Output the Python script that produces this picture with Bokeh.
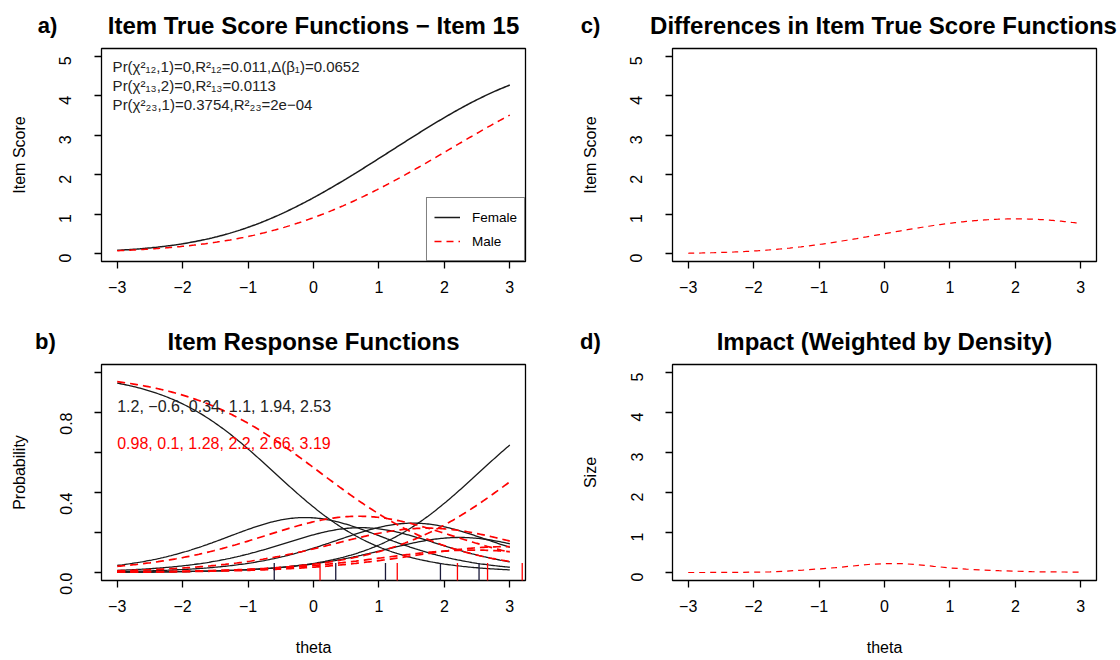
import math
import numpy as np
from bokeh.plotting import figure
from bokeh.layouts import row, column
from bokeh.models import Range1d, FixedTicker, Label, Legend, LegendItem
from bokeh.embed import file_html
from bokeh.resources import INLINE

# ---------------- data ----------------
theta_ticks = [-3, -2, -1, 0, 1, 2, 3]
theta_tick_labels = ["\u22123", "\u22122", "\u22121", "0", "1", "2", "3"]
score_ticks = [0, 1, 2, 3, 4, 5]
score_tick_labels = ["0", "1", "2", "3", "4", "5"]
prob_ticks = [0.0, 0.2, 0.4, 0.6, 0.8, 1.0]
prob_tick_labels = ["0.0", "", "0.4", "", "0.8", ""]

groups = ["Female", "Male"]
female_a = 1.2
female_b = [-0.6, 0.34, 1.1, 1.94, 2.53]
male_a = 0.98
male_b = [0.1, 1.28, 2.2, 2.66, 3.19]

impact_theta = [-3.0, -2.75, -2.5, -2.25, -2.0, -1.75, -1.5, -1.25, -1.0, -0.75, -0.5, -0.25,
                0.0, 0.25, 0.5, 0.75, 1.0, 1.25, 1.5, 1.75, 2.0, 2.25, 2.5, 2.75, 3.0]
impact_size = [0.0, 0.0, 0.002, 0.004, 0.008, 0.015, 0.035, 0.06, 0.09, 0.12, 0.16, 0.2,
               0.222, 0.225, 0.197, 0.155, 0.115, 0.085, 0.06, 0.045, 0.033, 0.02, 0.015, 0.012, 0.008]

stat_lines = ["Pr(\u03c7\u00b2\u2081\u2082,1)=0,R\u00b2\u2081\u2082=0.011,\u0394(\u03b2\u2081)=0.0652",
              "Pr(\u03c7\u00b2\u2081\u2083,2)=0,R\u00b2\u2081\u2083=0.0113",
              "Pr(\u03c7\u00b2\u2082\u2083,1)=0.3754,R\u00b2\u2082\u2083=2e\u221204"]
param_lines = ["1.2, \u22120.6, 0.34, 1.1, 1.94, 2.53",
               "0.98, 0.1, 1.28, 2.2, 2.66, 3.19"]
panel_tags = ["a)", "b)", "c)", "d)"]
panel_titles = ["Item True Score Functions \u2212 Item 15",
                "Item Response Functions",
                "Differences in Item True Score Functions",
                "Impact (Weighted by Density)"]

# ---------------- model curves from the printed GRM parameters ----------------
th = np.linspace(-3, 3, 241)


def cum_probs(a, bs):
    return [1.0 / (1.0 + np.exp(-a * (th - b))) for b in bs]


def cat_probs(a, bs):
    c = [np.ones_like(th)] + cum_probs(a, bs) + [np.zeros_like(th)]
    return [c[k] - c[k + 1] for k in range(len(bs) + 1)]


score_f = np.sum(cum_probs(female_a, female_b), axis=0)
score_m = np.sum(cum_probs(male_a, male_b), axis=0)
score_diff = score_f - score_m
cats_f = cat_probs(female_a, female_b)
cats_m = cat_probs(male_a, male_b)

FONT = "Liberation Sans"
BLACK = "#1a1a1a"
RED = "#ff0000"
TOTAL_W = 1118


def base_fig(width, height, bl, br, bt, bb, yr, yticks, ylabels, ylab, xlab):
    p = figure(width=width, height=height, x_range=Range1d(-3.24, 3.24), y_range=Range1d(*yr),
               output_backend="svg", toolbar_location=None,
               min_border_left=bl, min_border_right=br, min_border_top=bt, min_border_bottom=bb)
    p.grid.visible = False
    p.outline_line_color = "black"
    p.outline_line_width = 1.3
    p.background_fill_color = "white"
    p.border_fill_color = "white"
    p.xaxis.ticker = FixedTicker(ticks=theta_ticks)
    p.xaxis.major_label_overrides = dict(zip(theta_ticks, theta_tick_labels))
    p.yaxis.ticker = FixedTicker(ticks=yticks)
    p.yaxis.major_label_overrides = dict(zip(yticks, ylabels))
    p.yaxis.major_label_orientation = math.pi / 2
    for ax in p.axis:
        ax.axis_line_color = None
        ax.major_tick_in = 0
        ax.major_tick_out = 7
        ax.major_tick_line_width = 1.3
        ax.major_tick_line_color = "black"
        ax.minor_tick_line_color = None
        ax.major_label_text_font = FONT
        ax.major_label_text_font_size = "16px"
        ax.major_label_text_color = "black"
        ax.axis_label_text_font = FONT
        ax.axis_label_text_font_size = "16px"
        ax.axis_label_text_font_style = "normal"
        ax.axis_label_text_color = "black"
    p.yaxis.axis_label = ylab
    p.yaxis.major_label_standoff = 29
    p.yaxis.axis_label_standoff = 23
    p.xaxis.major_label_standoff = 12
    if xlab:
        p.xaxis.axis_label = xlab
        p.xaxis.axis_label_standoff = 24
    return p


def heading_fig(height, items):
    f = figure(width=TOTAL_W, height=height, x_range=Range1d(0, TOTAL_W), y_range=Range1d(height, 0),
               x_axis_type=None, y_axis_type=None, output_backend="svg", toolbar_location=None,
               min_border=0)
    f.grid.visible = False
    f.outline_line_color = None
    f.background_fill_color = "white"
    f.border_fill_color = "white"
    for x, y, txt, size in items:
        f.add_layout(Label(x=x, y=y, text=txt, text_font=FONT, text_font_size=size,
                           text_font_style="bold", text_align="center", text_baseline="middle",
                           text_color="black"))
    return f


TAG = "22px"
TTL = "24px"
# ---- headings ----
head_top = heading_fig(46, [(47, 25, panel_tags[0], TAG), (313, 25, panel_titles[0], TTL),
                            (590, 25, panel_tags[2], TAG), (883, 25, panel_titles[2], TTL)])
head_bot = heading_fig(42, [(45, 21, panel_tags[1], TAG), (313, 21, panel_titles[1], TTL),
                            (590, 21, panel_tags[3], TAG), (884, 21, panel_titles[3], TTL)])

# ---- panel a ----
pa = base_fig(560, 274, 101, 35, 2, 59, (-0.2, 5.2), score_ticks, score_tick_labels, "Item Score", None)
r_f = pa.line(th, score_f, line_color=BLACK, line_width=1.5)
r_m = pa.line(th, score_m, line_color=RED, line_width=1.5, line_dash="7 5")
for txt, yv in zip(stat_lines, [4.75, 4.27, 3.79]):
    pa.add_layout(Label(x=-3.07, y=yv, text=txt, text_font=FONT, text_font_size="15px",
                        text_color="#222222", text_align="left", text_baseline="middle"))
legend = Legend(items=[LegendItem(label=groups[0], renderers=[r_f]),
                       LegendItem(label=groups[1], renderers=[r_m])],
                location="bottom_right", margin=0, padding=7, spacing=0,
                glyph_width=26, glyph_height=24, label_height=24, label_standoff=12,
                label_text_font=FONT, label_text_font_size="13.5px", label_text_color="black",
                border_line_color="black", border_line_width=1.3, background_fill_alpha=1.0)
pa.add_layout(legend)

# ---- panel b ----
pb = base_fig(560, 297, 101, 35, 2, 79, (-0.04, 1.04), prob_ticks, prob_tick_labels, "Probability", "theta")
for c in cats_f:
    pb.line(th, c, line_color=BLACK, line_width=1.3)
for c in cats_m:
    pb.line(th, c, line_color=RED, line_width=1.7, line_dash="8 5")
pb.segment(x0=female_b, y0=[-0.06] * len(female_b), x1=female_b, y1=[0.048] * len(female_b),
           line_color="#1a1a3a", line_width=1.3)
pb.segment(x0=male_b, y0=[-0.06] * len(male_b), x1=male_b, y1=[0.048] * len(male_b),
           line_color=RED, line_width=1.3)
pb.add_layout(Label(x=-3, y=0.83, text=param_lines[0], text_font=FONT, text_font_size="16px",
                    text_color="#222222", text_align="left", text_baseline="middle"))
pb.add_layout(Label(x=-3, y=0.647, text=param_lines[1], text_font=FONT, text_font_size="16px",
                    text_color=RED, text_align="left", text_baseline="middle"))

# ---- panel c ----
pc = base_fig(TOTAL_W - 560, 274, 112, TOTAL_W - 560 - 112 - 424, 2, 59, (-0.2, 5.2),
              score_ticks, score_tick_labels, "Item Score", None)
pc.line(th, score_diff, line_color=RED, line_width=1.2, line_dash="6 5")

# ---- panel d ----
pd = base_fig(TOTAL_W - 560, 297, 112, TOTAL_W - 560 - 112 - 424, 2, 79, (-0.2, 5.2),
              score_ticks, score_tick_labels, "Size", "theta")
pd.line(impact_theta, impact_size, line_color=RED, line_width=1.2, line_dash="6 5")

layout = column(head_top, row(pa, pc), head_bot, row(pb, pd))
open("out.html", "w").write(file_html(layout, INLINE))
